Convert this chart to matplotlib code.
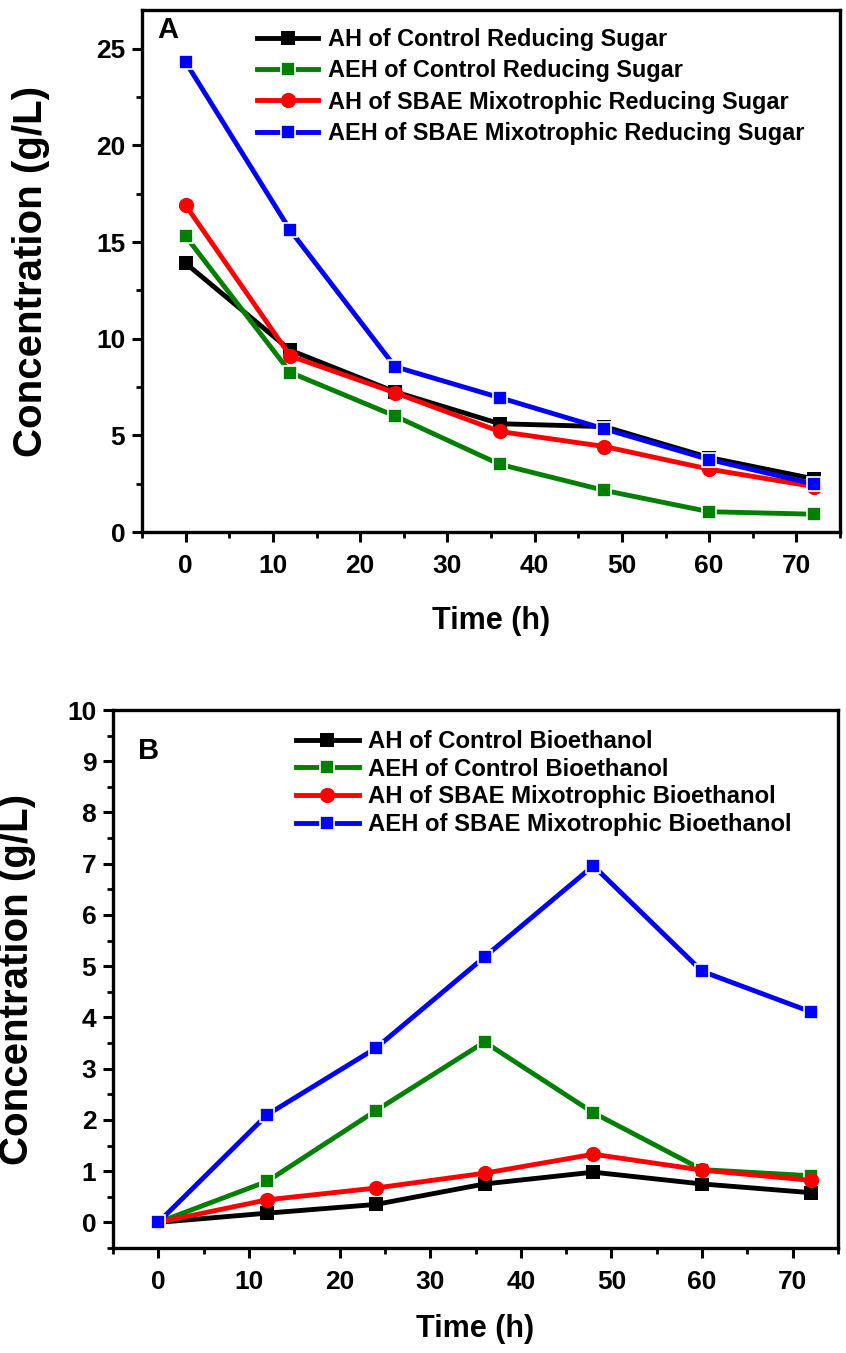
import matplotlib
matplotlib.use("Agg")
import matplotlib.pyplot as plt
from matplotlib import font_manager
from matplotlib.ticker import MultipleLocator

names = {f.name for f in font_manager.fontManager.ttflist}
FONT = "Liberation Sans Narrow" if "Liberation Sans Narrow" in names else (
    "DejaVu Sans Condensed" if "DejaVu Sans Condensed" in names else "Liberation Sans")
plt.rcParams['font.family'] = [FONT, 'Liberation Sans', 'DejaVu Sans']
plt.rcParams['font.weight'] = 'bold'

time_h = [0, 12, 24, 36, 48, 60, 72]

# Panel A: reducing sugar (g/L)
sugar_ah_control = [13.9, 9.4, 7.25, 5.6, 5.45, 3.85, 2.75]
sugar_aeh_control = [15.3, 8.25, 6.0, 3.5, 2.15, 1.05, 0.92]
sugar_ah_sbae = [16.9, 9.1, 7.2, 5.2, 4.42, 3.25, 2.35]
sugar_aeh_sbae = [24.3, 15.6, 8.55, 6.95, 5.33, 3.75, 2.48]
labels_a = ["AH of Control Reducing Sugar", "AEH of Control Reducing Sugar",
            "AH of SBAE Mixotrophic Reducing Sugar", "AEH of SBAE Mixotrophic Reducing Sugar"]

# Panel B: bioethanol (g/L)
eth_ah_control = [0.0, 0.18, 0.35, 0.75, 0.98, 0.75, 0.58]
eth_aeh_control = [0.0, 0.80, 2.18, 3.52, 2.14, 1.03, 0.91]
eth_ah_sbae = [0.0, 0.44, 0.67, 0.96, 1.33, 1.02, 0.82]
eth_aeh_sbae = [0.0, 2.10, 3.40, 5.18, 6.96, 4.90, 4.11]
labels_b = ["AH of Control Bioethanol", "AEH of Control Bioethanol",
            "AH of SBAE Mixotrophic Bioethanol", "AEH of SBAE Mixotrophic Bioethanol"]

colors = ["#000000", "#007f00", "#ff0000", "#0000ff"]
markers = ["s", "s", "o", "s"]

fig = plt.figure(figsize=(8.46, 13.53), dpi=100)
axA = fig.add_axes([142/846, 1-532/1353, 698/846, 522/1353])
axB = fig.add_axes([113/846, 1-1248/1353, 725/846, 538/1353])

TICK_FS = 19
XLAB_FS = 22
YLAB_FS = 29
LEG_FS_A = 16.9
LEG_FS_B = 17.2

def style(ax):
    for s in ax.spines.values():
        s.set_linewidth(2.4)
    ax.tick_params(which='major', direction='out', length=7, width=2.2,
                   labelsize=TICK_FS, pad=5)
    ax.tick_params(which='minor', direction='out', length=4, width=2.0)
    ax.tick_params(axis='x', which='major', pad=9)
    for lab in ax.get_xticklabels() + ax.get_yticklabels():
        lab.set_fontweight('bold')

def draw(ax, series, labels):
    for y, lab, c, m in zip(series, labels, colors, markers):
        ec = c if c in ("#000000", "#ff0000") else "white"
        ax.plot(time_h, y, color=c, lw=3.5, marker=m,
                ms=10 if m == 's' else 11, mfc=c, mec=ec, mew=1.2 if ec == "white" else 0,
                label=lab, solid_joinstyle='miter')

draw(axA, [sugar_ah_control, sugar_aeh_control, sugar_ah_sbae, sugar_aeh_sbae], labels_a)
axA.set_xlim(-5, 75)
axA.set_ylim(0, 27)
axA.xaxis.set_major_locator(MultipleLocator(10))
axA.xaxis.set_minor_locator(MultipleLocator(5))
axA.yaxis.set_major_locator(MultipleLocator(5))
axA.yaxis.set_minor_locator(MultipleLocator(2.5))
style(axA)
axA.set_xlabel("Time (h)", fontsize=XLAB_FS, fontweight='bold', labelpad=20)
axA.set_ylabel("Concentration (g/L)", fontsize=YLAB_FS, fontweight='bold')
axA.yaxis.set_label_coords(-0.132, 0.5)
axA.text(0.022, 0.988, "A", transform=axA.transAxes, fontsize=21, fontweight='bold',
         va='top', ha='left')
axA.legend(loc='upper left', bbox_to_anchor=(0.165, 0.966), frameon=False,
           handlelength=2.6, handletextpad=0.4, labelspacing=0.36,
           borderpad=0, borderaxespad=0, prop={'weight': 'bold', 'size': LEG_FS_A})

draw(axB, [eth_ah_control, eth_aeh_control, eth_ah_sbae, eth_aeh_sbae], labels_b)
axB.set_xlim(-5, 75)
axB.set_ylim(-0.5, 10)
axB.xaxis.set_major_locator(MultipleLocator(10))
axB.xaxis.set_minor_locator(MultipleLocator(5))
axB.yaxis.set_major_locator(MultipleLocator(1))
axB.yaxis.set_minor_locator(MultipleLocator(0.5))
style(axB)
axB.set_xlabel("Time (h)", fontsize=XLAB_FS, fontweight='bold', labelpad=14)
axB.set_ylabel("Concentration (g/L)", fontsize=YLAB_FS, fontweight='bold')
axB.yaxis.set_label_coords(-0.106, 0.5)
axB.text(0.035, 0.95, "B", transform=axB.transAxes, fontsize=21, fontweight='bold',
         va='top', ha='left')
axB.legend(loc='upper left', bbox_to_anchor=(0.253, 0.963), frameon=False,
           handlelength=2.6, handletextpad=0.4, labelspacing=0.2,
           borderpad=0, borderaxespad=0, prop={'weight': 'bold', 'size': LEG_FS_B})

fig.savefig("out.png", dpi=100)
